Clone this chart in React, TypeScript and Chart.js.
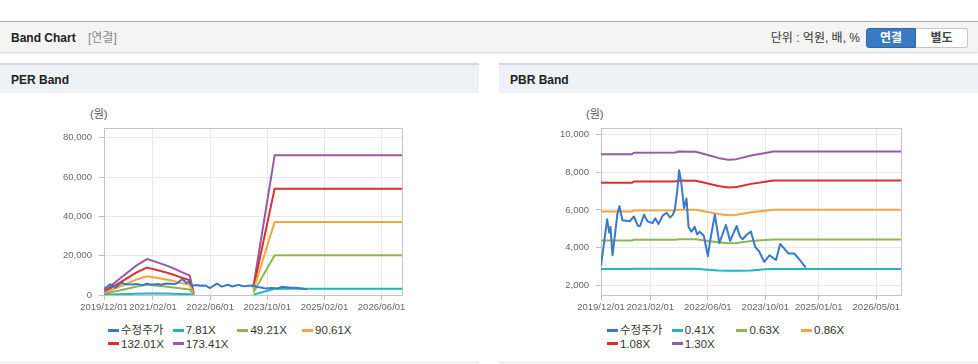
import React, { useEffect, useRef } from "react";
import { Chart, registerables } from "chart.js";

Chart.register(...registerables);

// ---------------- data ----------------
const perTickIndex = [0, 12, 26, 40, 54, 68];
const perTickLabels = ["2019/12/01", "2021/02/01", "2022/06/01", "2023/10/01", "2025/02/01", "2026/06/01"];
const pbrTickIndex = [0, 12, 26, 40, 53, 67];
const pbrTickLabels = ["2019/12/01", "2021/02/01", "2022/06/01", "2023/10/01", "2025/01/01", "2026/05/01"];
const perYTicks = [0, 20000, 40000, 60000, 80000];
const pbrYTicks = [2000, 4000, 6000, 8000, 10000];

const perSeriesNames = ["수정주가", "7.81X", "49.21X", "90.61X", "132.01X", "173.41X"];
const pbrSeriesNames = ["수정주가", "0.41X", "0.63X", "0.86X", "1.08X", "1.30X"];
const seriesColors = ["#3a78c8", "#22b4c6", "#8db556", "#f2a63c", "#d8302e", "#9859a6"];

// adjusted price (수정주가), x = period index on the axis
const priceX = [0, 1.5, 2, 2.3, 2.8, 4, 4.5, 5.2, 7, 8, 9, 9.5, 10.5, 11.3, 12.5, 13.2, 14, 15, 16, 16.8, 17.5, 18, 18.6, 19, 19.5, 20.2, 20.8, 21.3, 22, 22.8, 23.4, 24, 25, 26, 26.5, 27.7, 28.8, 30.4, 31.4, 33, 33.8, 34.5, 35.5, 36.5, 37.5, 38.5, 39.7, 41, 42.6, 43.6, 45.6, 47, 48.4, 49.8];
const priceValues = [3050, 5500, 4800, 5100, 3600, 5800, 6200, 5450, 5400, 5650, 5150, 5150, 5750, 5400, 5300, 5550, 5250, 5700, 5850, 5600, 5750, 6050, 7100, 8100, 7500, 6100, 6600, 5100, 4850, 5100, 4700, 4850, 4650, 3550, 4300, 5750, 4250, 5200, 4350, 5150, 4600, 4450, 4700, 4850, 4050, 3800, 3250, 3600, 3350, 4200, 3700, 3700, 3350, 2950];

// PER band lines
const perBandX = [0, 2, 4, 6, 8, 10.5, 12.5, 14.5, 16.5, 18.5, 21, 22, 29, 36.6, 41.8, 73];
const per781 = [86, 234, 383, 531, 679, 824, 765, 703, 633, 547, 445, 31, null, 195, 3202, 3202];
const per4921 = [541, 1476, 2411, 3346, 4281, 5192, 4823, 4429, 3986, 3445, 2805, 197, null, 1230, 20176, 20176];
const per9061 = [997, 2718, 4440, 6161, 7883, 9559, 8880, 8155, 7339, 6343, 5165, 362, null, 2265, 37150, 37150];
const per13201 = [1452, 3960, 6468, 8977, 11485, 13927, 12937, 11881, 10693, 9241, 7525, 528, null, 3300, 54124, 54124];
const per17341 = [1908, 5202, 8497, 11792, 15087, 18295, 16994, 15607, 14046, 12139, 9884, 694, null, 4335, 71098, 71098];

// PBR band lines
const pbrBandX = [0, 7.5, 8, 18, 19, 23, 26, 28.5, 31, 33, 36.5, 40, 42, 73];
const pbr041 = [2880, 2880, 2890, 2890, 2890, 2890, 2830, 2790, 2780, 2780, 2800, 2860, 2880, 2880];
const pbr063 = [4380, 4380, 4420, 4425, 4450, 4445, 4360, 4290, 4240, 4255, 4350, 4410, 4440, 4440];
const pbr086 = [5917, 5917, 5968, 5977, 6011, 6003, 5891, 5788, 5719, 5745, 5874, 5960, 6011, 6011];
const pbr108 = [7430, 7430, 7495, 7506, 7549, 7538, 7398, 7268, 7182, 7214, 7376, 7484, 7549, 7549];
const pbr130 = [8944, 8944, 9022, 9035, 9087, 9074, 8905, 8749, 8645, 8684, 8879, 9009, 9087, 9087];

// ---------------- helpers ----------------
const FONT = "'Liberation Sans', 'Noto Sans CJK KR', Arial, sans-serif";

const pts = (xs: number[], ys: (number | null)[]) => xs.map((x, i) => ({ x, y: ys[i] }));

const framePlugin = {
  id: "frame",
  beforeDatasetsDraw(chart: any) {
    const { ctx, chartArea: a } = chart;
    ctx.save();
    ctx.strokeStyle = "#c4c4c4";
    ctx.lineWidth = 1;
    ctx.strokeRect(Math.round(a.left) + 0.5, Math.round(a.top) + 0.5, Math.round(a.right - a.left), Math.round(a.bottom - a.top));
    ctx.restore();
  },
};

type ChartProps = {
  left: number;
  plotLeft: number;
  yMin: number;
  yMax: number;
  yTicks: number[];
  xTicks: number[];
  xLabels: string[];
  names: string[];
  bandX: number[];
  bands: (number | null)[][];
};

function BandCanvas(p: ChartProps) {
  const ref = useRef<HTMLCanvasElement>(null);
  useEffect(() => {
    if (!ref.current) return;
    const datasets: any[] = [
      {
        label: p.names[0],
        data: pts(priceX, priceValues),
        borderColor: seriesColors[0],
        backgroundColor: seriesColors[0],
      },
      ...p.bands.map((b, i) => ({
        label: p.names[i + 1],
        data: pts(p.bandX, b),
        borderColor: seriesColors[i + 1],
        backgroundColor: seriesColors[i + 1],
        spanGaps: false,
      })),
    ];
    const chart = new Chart(ref.current, {
      type: "line",
      data: { datasets },
      plugins: [framePlugin],
      options: {
        animation: false,
        responsive: false,
        maintainAspectRatio: false,
        layout: { padding: { left: 0, top: 33, right: 77, bottom: 0 } },
        plugins: { legend: { display: false }, tooltip: { enabled: false } },
        elements: {
          point: { radius: 0, hoverRadius: 0 },
          line: { borderWidth: 2, tension: 0, borderJoinStyle: "round" },
        },
        scales: {
          x: {
            type: "linear",
            min: 0,
            max: 73,
            afterBuildTicks: (s: any) => {
              s.ticks = p.xTicks.map((v) => ({ value: v }));
            },
            afterFit: (s: any) => {
              s.height = 25;
            },
            ticks: {
              autoSkip: false,
              maxRotation: 0,
              padding: 2,
              color: "#666",
              font: { family: FONT, size: 9.5 },
              callback: (v: any) => {
                const k = p.xTicks.indexOf(Number(v));
                return k >= 0 ? p.xLabels[k] : "";
              },
            },
            grid: { color: "#e8e8e8", tickColor: "#bdbdbd", tickLength: 5, drawTicks: true },
            border: { color: "#bdbdbd" },
          },
          y: {
            type: "linear",
            min: p.yMin,
            max: p.yMax,
            afterBuildTicks: (s: any) => {
              s.ticks = p.yTicks.map((v) => ({ value: v }));
            },
            afterFit: (s: any) => {
              s.width = p.plotLeft;
            },
            ticks: {
              padding: 7,
              color: "#666",
              font: { family: FONT, size: 9.5 },
              callback: (v: any) => Number(v).toLocaleString("en-US"),
            },
            grid: { color: "#e8e8e8", tickColor: "#bdbdbd", tickLength: 5, drawTicks: true },
            border: { color: "#bdbdbd" },
          },
        },
      } as any,
    });
    return () => chart.destroy();
  }, []);
  return (
    <canvas
      ref={ref}
      width={479}
      height={225}
      style={{ position: "absolute", left: p.left, top: 95, width: 479, height: 225 }}
    />
  );
}

function Legend({ left, names }: { left: number; names: string[] }) {
  return (
    <>
      {names.map((n, i) => {
        const col = i % 4;
        const row = Math.floor(i / 4);
        return (
          <div
            key={n}
            style={{
              position: "absolute",
              left: left + col * 64.7,
              top: 323 + row * 13.5,
              height: 14,
              display: "flex",
              alignItems: "center",
              whiteSpace: "nowrap",
              font: `11.5px/14px ${FONT}`,
              color: "#333",
            }}
          >
            <span style={{ display: "inline-block", width: 11, height: 3, background: seriesColors[i], marginRight: 2 }} />
            <span>{n}</span>
          </div>
        );
      })}
    </>
  );
}

function Panel({ left, title, unitLeft }: { left: number; title: string; unitLeft: number }) {
  return (
    <>
      <div
        style={{
          position: "absolute",
          left,
          top: 63,
          width: 479,
          height: 28,
          borderTop: "2px solid #d6d6d6",
          background: "#eef2f6",
        }}
      >
        <div style={{ position: "absolute", left: 11, top: 0, font: `bold 12px/30px ${FONT}`, color: "#222" }}>{title}</div>
      </div>
      <div style={{ position: "absolute", left: unitLeft, top: 107, font: `11px/14px ${FONT}`, color: "#555" }}>(원)</div>
      <div style={{ position: "absolute", left, top: 362, width: 479, height: 1, background: "#e2e2e2" }} />
    </>
  );
}

export default function App() {
  return (
    <div
      style={{
        position: "absolute",
        left: 0,
        top: 0,
        width: 978,
        height: 364,
        overflow: "hidden",
        background: "#fff",
        fontFamily: FONT,
      }}
    >
      {/* header */}
      <div
        style={{
          position: "absolute",
          left: 0,
          top: 21,
          width: 978,
          height: 30,
          borderTop: "1px solid #a8a8a8",
          background: "#f4f4f4",
          boxShadow: "0 1px 2px rgba(0,0,0,0.18)",
        }}
      >
        <div style={{ position: "absolute", left: 11, top: 0, font: `bold 12px/32px ${FONT}`, color: "#222" }}>Band Chart</div>
        <div style={{ position: "absolute", left: 88, top: 0, font: `12px/32px ${FONT}`, color: "#888" }}>[연결]</div>
        <div
          style={{
            position: "absolute",
            right: 118,
            top: 0,
            font: `12px/32px ${FONT}`,
            color: "#333",
            whiteSpace: "nowrap",
          }}
        >
          단위 : 억원, 배, %
        </div>
        <div
          style={{
            position: "absolute",
            left: 866,
            top: 6,
            width: 50,
            height: 20,
            boxSizing: "border-box",
            background: "#3b79c3",
            border: "1px solid #2f67ab",
            borderRadius: "3px 0 0 3px",
            color: "#fff",
            font: `bold 12px/18px ${FONT}`,
            textAlign: "center",
          }}
        >
          연결
        </div>
        <div
          style={{
            position: "absolute",
            left: 916,
            top: 6,
            width: 52,
            height: 20,
            boxSizing: "border-box",
            background: "#fff",
            border: "1px solid #c6c6c6",
            borderLeft: "none",
            borderRadius: "0 3px 3px 0",
            color: "#444",
            font: `bold 12px/18px ${FONT}`,
            textAlign: "center",
          }}
        >
          별도
        </div>
      </div>

      <Panel left={0} title="PER Band" unitLeft={90} />
      <Panel left={499} title="PBR Band" unitLeft={586} />

      <BandCanvas
        left={0}
        plotLeft={104}
        yMin={0}
        yMax={85000}
        yTicks={perYTicks}
        xTicks={perTickIndex}
        xLabels={perTickLabels}
        names={perSeriesNames}
        bandX={perBandX}
        bands={[per781, per4921, per9061, per13201, per17341]}
      />
      <BandCanvas
        left={499}
        plotLeft={102}
        yMin={1500}
        yMax={10330}
        yTicks={pbrYTicks}
        xTicks={pbrTickIndex}
        xLabels={pbrTickLabels}
        names={pbrSeriesNames}
        bandX={pbrBandX}
        bands={[pbr041, pbr063, pbr086, pbr108, pbr130]}
      />

      <Legend left={108} names={perSeriesNames} />
      <Legend left={607} names={pbrSeriesNames} />
    </div>
  );
}
